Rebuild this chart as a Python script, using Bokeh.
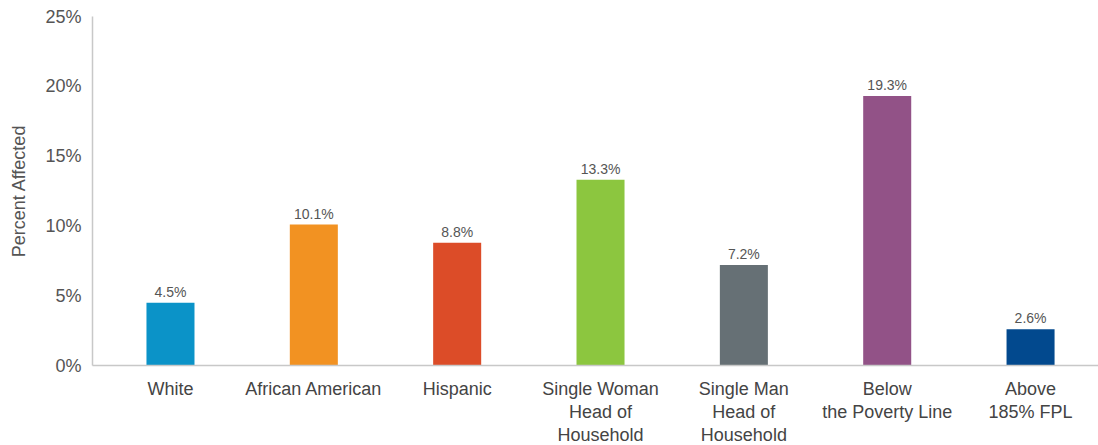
from bokeh.plotting import figure
from bokeh.models import ColumnDataSource, Range1d, FixedTicker, PrintfTickFormatter
from bokeh.embed import file_html
from bokeh.resources import INLINE

categories = ["White", "African American", "Hispanic", "Single Woman\nHead of\nHousehold",
              "Single Man\nHead of\nHousehold", "Below\nthe Poverty Line", "Above\n185% FPL"]
values = [4.5, 10.1, 8.8, 13.3, 7.2, 19.3, 2.6]
colors = ["#0b93c8", "#f29222", "#dc4c28", "#8cc63f", "#667075", "#925287", "#02498e"]
y_ticks = [0, 5, 10, 15, 20, 25]

FONT = "Liberation Sans"

x = list(range(len(categories)))
src = ColumnDataSource(dict(x=x, v=values, c=colors, lbl=[f"{v:.1f}%" for v in values]))

p = figure(frame_width=1006, frame_height=349, output_backend="svg", toolbar_location=None,
           x_range=Range1d(-0.544, 6.474), y_range=Range1d(0, 25),
           min_border_left=92, min_border_top=16, min_border_right=0, min_border_bottom=0)
p.outline_line_color = None
p.xgrid.grid_line_color = None
p.ygrid.grid_line_color = None

p.vbar(x="x", top="v", width=0.335, fill_color="c", line_color=None, source=src)
p.text(x="x", y="v", text="lbl", source=src, text_align="center", text_baseline="bottom",
       y_offset=-3, text_font_size="14px", text_color="#555555",
       text_font={"value": FONT})

ya = p.yaxis[0]
ya.ticker = FixedTicker(ticks=y_ticks)
ya.formatter = PrintfTickFormatter(format="%d%%")
ya.major_tick_line_color = None
ya.minor_tick_line_color = None
ya.major_label_standoff = 5
ya.axis_line_color = "#c8c8c8"
ya.axis_line_width = 1.5
ya.major_label_text_font = FONT
ya.major_label_text_font_size = "18px"
ya.major_label_text_color = "#555555"
ya.axis_label = "Percent Affected"
ya.axis_label_text_font = FONT
ya.axis_label_text_font_size = "18px"
ya.axis_label_text_font_style = "normal"
ya.axis_label_text_color = "#555555"
ya.axis_label_standoff = 13

xa = p.xaxis[0]
xa.ticker = FixedTicker(ticks=x)
xa.major_label_overrides = {i: c for i, c in zip(x, categories)}
xa.major_tick_line_color = None
xa.minor_tick_line_color = None
xa.major_label_standoff = 7
xa.axis_line_color = "#c8c8c8"
xa.axis_line_width = 1.5
xa.major_label_text_font = FONT
xa.major_label_text_font_size = "18px"
xa.major_label_text_color = "#444444"
xa.major_label_text_line_height = 1.15

open("out.html", "w").write(file_html(p, INLINE))
